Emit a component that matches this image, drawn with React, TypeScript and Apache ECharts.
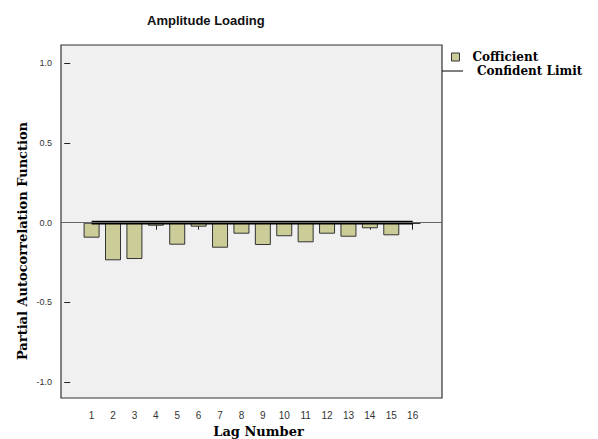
import React, { useEffect, useRef } from "react";
import * as echarts from "echarts";

const lags = [1, 2, 3, 4, 5, 6, 7, 8, 9, 10, 11, 12, 13, 14, 15, 16];
const coefficients = [-0.094, -0.236, -0.228, -0.019, -0.138, -0.025, -0.157, -0.069, -0.14, -0.085, -0.123, -0.069, -0.088, -0.035, -0.079, -0.008];
const upperLimit = [0.007, 0.007, 0.007, 0.007, 0.007, 0.007, 0.007, 0.007, 0.007, 0.007, 0.007, 0.007, 0.007, 0.007, 0.007, 0.007];
const lowerLimit = [-0.007, -0.007, -0.007, -0.007, -0.007, -0.007, -0.007, -0.007, -0.007, -0.007, -0.007, -0.007, -0.007, -0.007, -0.007, -0.007];
const yTicks = [-1.0, -0.5, 0.0, 0.5, 1.0];

const SERIF = "'DejaVu Serif', 'Liberation Serif', serif";
const SANS = "'Liberation Sans', Arial, sans-serif";

export default function App() {
  const ref = useRef<HTMLDivElement>(null);
  useEffect(() => {
    if (!ref.current) return;
    const chart = echarts.init(ref.current, null, { renderer: "svg" });
    chart.setOption({
      animation: false,
      backgroundColor: "#ffffff",
      title: {
        text: "Amplitude Loading",
        left: 142,
        top: 9,
        textStyle: { fontFamily: SANS, fontSize: 13, fontWeight: "bold", color: "#111" },
      },
      legend: [
        {
          data: [{ name: "Cofficient", icon: "rect" }],
          left: 451,
          top: 51,
          padding: 0,
          itemWidth: 8,
          itemHeight: 8,
          itemStyle: { borderColor: "#333", borderWidth: 1 },
          textStyle: { fontFamily: SERIF, fontSize: 12, lineHeight: 10, fontWeight: "bold", color: "#000", padding: [0, 0, 0, 8] },
        },
        {
          data: [{ name: "Confident Limit", icon: "rect" }],
          left: 442,
          top: 65,
          padding: 0,
          itemWidth: 21,
          itemHeight: 1,
          textStyle: { fontFamily: SERIF, fontSize: 12, lineHeight: 10, fontWeight: "bold", color: "#000", padding: [0, 0, 0, 9] },
        },
      ],
      grid: {
        left: 61,
        top: 45,
        width: 381,
        height: 353,
        outerBoundsMode: "none",
        containLabel: false,
        show: true,
        backgroundColor: "#f0f0f0",
        borderColor: "#333",
        borderWidth: 1.2,
      },
      xAxis: {
        type: "value",
        min: -0.43,
        max: 17.37,
        offset: 1,
        name: "Lag Number",
        nameLocation: "middle",
        nameGap: 26,
        nameTextStyle: { fontFamily: SERIF, fontSize: 13, fontWeight: "bold", color: "#000", padding: [0, 0, 0, 14] },
        axisLine: { show: false },
        splitLine: { show: false },
        axisTick: { show: true, customValues: lags, length: 7, lineStyle: { color: "#222" } },
        axisLabel: { customValues: lags, margin: 11, fontFamily: SANS, fontSize: 10, color: "#333" },
      },
      yAxis: {
        type: "value",
        min: -1.1,
        max: 1.115,
        axisLine: { show: false },
        splitLine: { show: false },
        axisTick: { show: true, customValues: yTicks, length: 6, lineStyle: { color: "#222" } },
        axisLabel: {
          customValues: yTicks,
          margin: 9,
          fontFamily: SANS,
          fontSize: 9,
          color: "#333",
          formatter: (v: number) => v.toFixed(1),
        },
      },
      graphic: [
        {
          type: "text",
          x: 22,
          y: 241,
          rotation: Math.PI / 2,
          style: {
            text: "Partial Autocorrelation Function",
            fontFamily: SERIF,
            fontSize: 13,
            fontWeight: "bold",
            fill: "#000",
            textAlign: "center",
            textVerticalAlign: "middle",
          },
        },
      ],
      series: [
        {
          name: "Cofficient",
          type: "bar",
          barWidth: 16,
          data: lags.map((l, i) => [l, coefficients[i]]),
          itemStyle: { color: "#cccc99", borderColor: "#333", borderWidth: 1 },
          markLine: {
            silent: true,
            symbol: "none",
            label: { show: false },
            lineStyle: { color: "#666", width: 1, type: "solid" },
            data: [{ yAxis: 0 }],
          },
          z: 2,
        },
        {
          name: "Confident Limit",
          type: "line",
          showSymbol: false,
          symbol: "none",
          data: lags.map((l, i) => [l, upperLimit[i]]),
          lineStyle: { color: "#000", width: 1.6 },
          itemStyle: { color: "#000" },
          z: 3,
        },
        {
          name: "Confident Limit",
          type: "line",
          showSymbol: false,
          symbol: "none",
          data: lags.map((l, i) => [l, lowerLimit[i]]),
          lineStyle: { color: "#000", width: 1.6 },
          itemStyle: { color: "#000" },
          z: 3,
        },
      ],
    });
    return () => chart.dispose();
  }, []);
  return <div ref={ref} style={{ position: "absolute", left: 0, top: 0, width: 598, height: 439 }} />;
}
